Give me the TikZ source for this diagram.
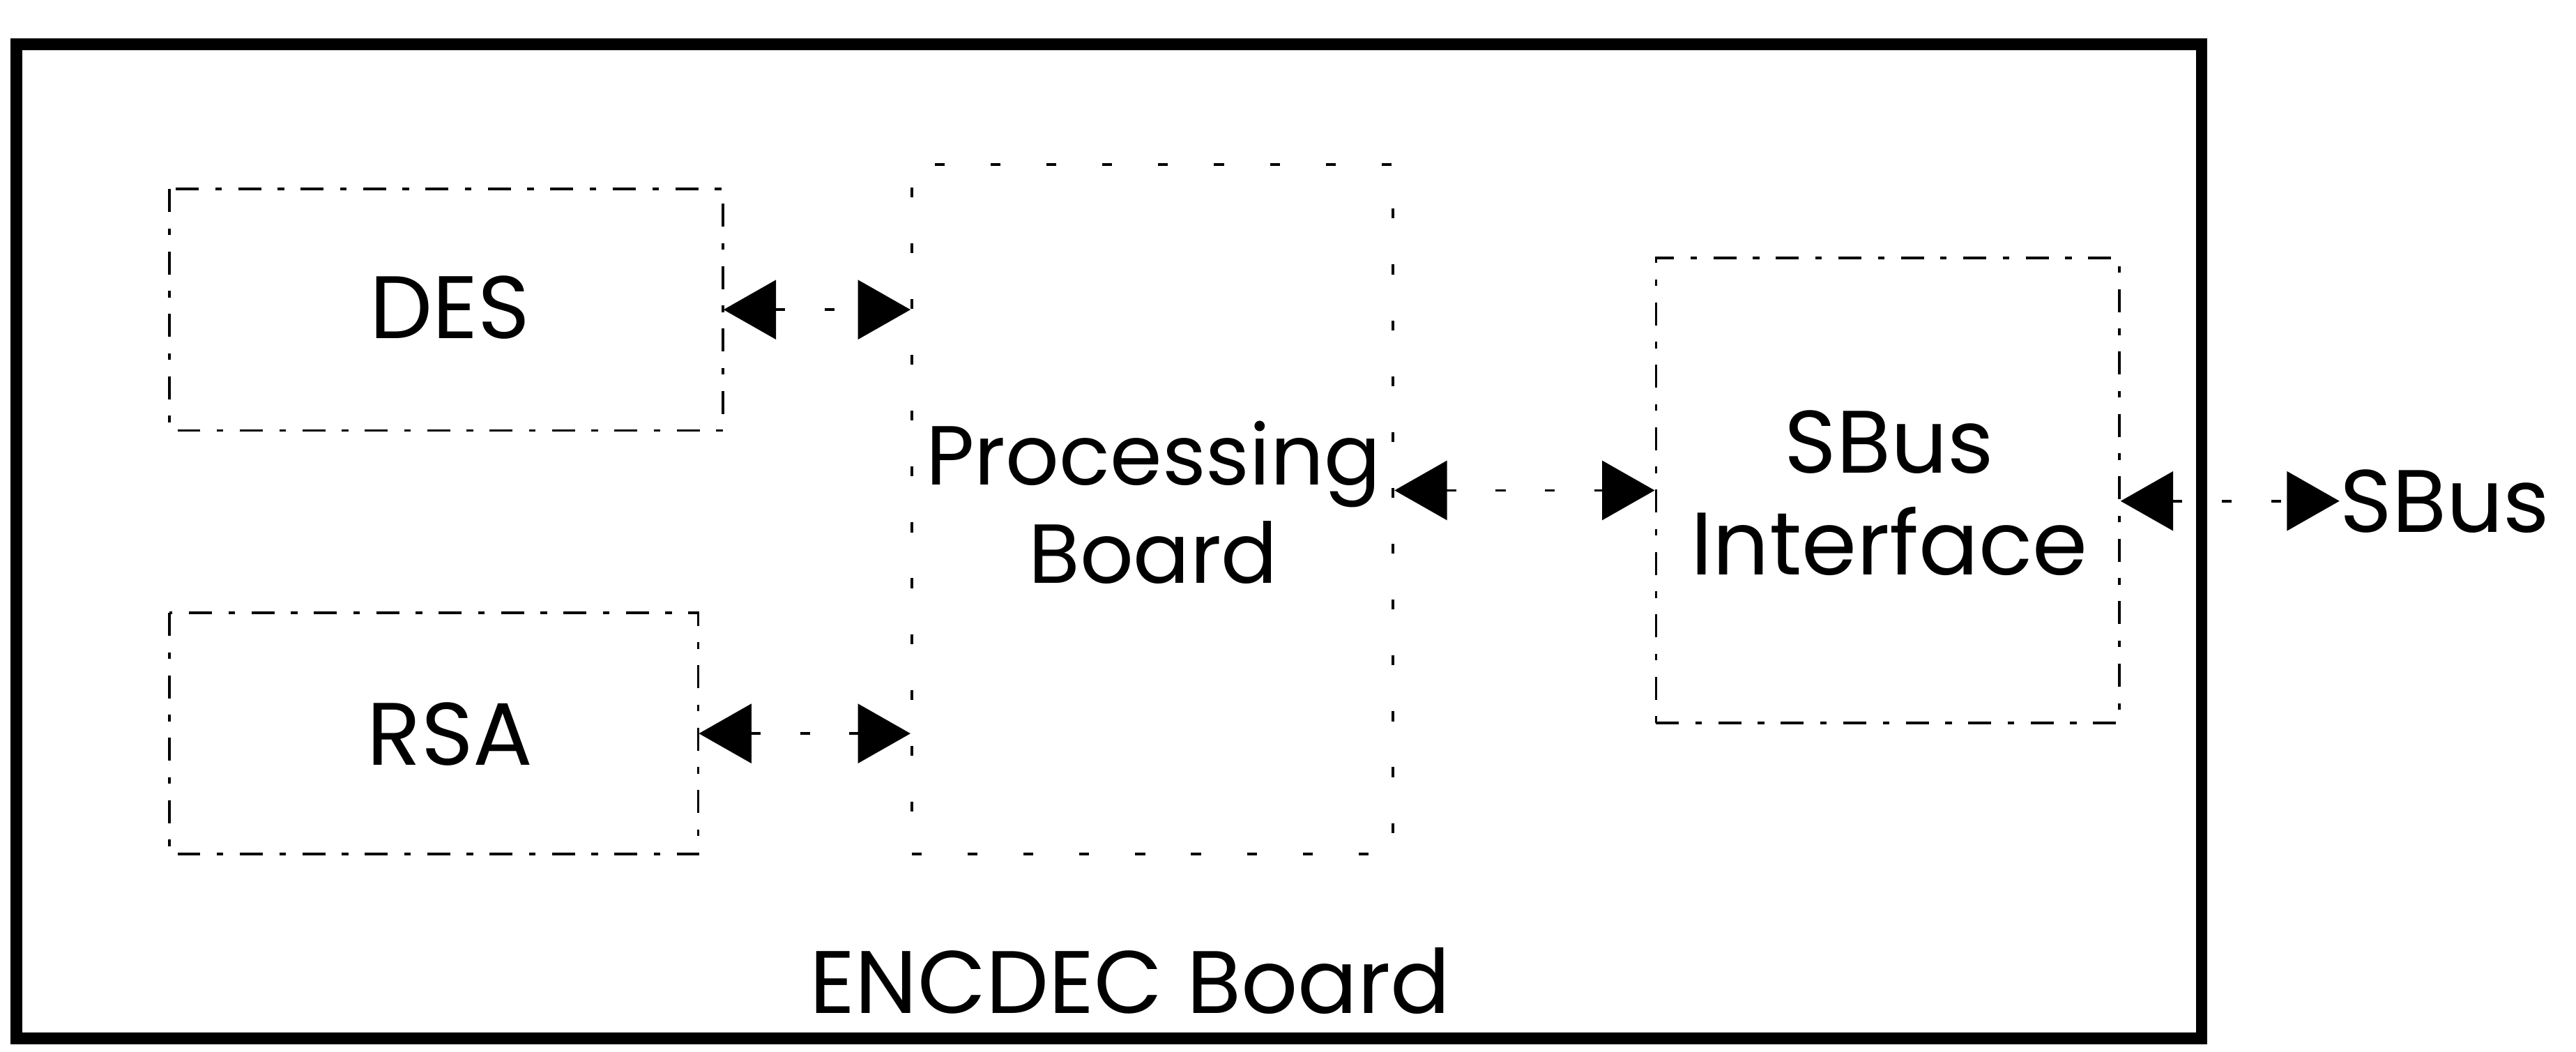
\documentclass[tikz,border=0pt]{standalone}
\usepackage{fontspec}
\setmainfont{Poppins}
\usetikzlibrary{arrows.meta}
\tikzset{
  faint/.style={draw, line width=0.8pt, dash pattern=on 7pt off 5pt on 2pt off 5pt},
  fainter/.style={draw, line width=0.8pt, dash pattern=on 3pt off 14pt},
  lbl/.style={font=\fontsize{27}{31}\selectfont, align=center, inner sep=0pt},
  biarrow/.style={line width=0.8pt, dash pattern=on 3pt off 12pt,
    {Triangle[length=16pt,width=18pt]}-{Triangle[length=16pt,width=18pt]}},
  frame/.style={draw, line width=3.5pt}
}
\begin{document}
\begin{tikzpicture}[x=0.5pt,y=-0.5pt]
\useasboundingbox (0,0) rectangle (1568,640);
% outer board
\draw[frame] (10,27) rectangle (1340,632);
\coordinate (boardlabel) at (688,597);
\node[lbl] (encdec) at (boardlabel) {ENCDEC Board};
% boxes
\draw[faint] (103,115) rectangle (440,262);
\node[lbl] (deslbl) at (274,187) {DES};
\coordinate (des) at (271.5,188.5);
\node[minimum width=168.5pt, minimum height=73.5pt, inner sep=0pt] (desbox) at (des) {};
\draw[faint] (103,373) rectangle (425,520);
\node[minimum width=161pt, minimum height=73.5pt, inner sep=0pt] (rsabox) at (264,446.5) {};
\node[lbl] (rsalbl) at (274,447) {RSA};
\node[fainter, minimum width=146.5pt, minimum height=210pt, inner sep=0pt] (proc) at (701.5,310) {};
\node[lbl, font=\fontsize{25.5}{30}\selectfont] (proclbl) at (702,306) {Processing\\Board};
\node[faint, minimum width=141pt, minimum height=141.5pt, inner sep=0pt] (sbi) at (1149,298.5) {};
\node[lbl] (sbilbl) at (1150,300) {SBus\\Interface};
\node[lbl, anchor=west] (sbus) at (1424,305) {SBus};
% connectors
\draw[biarrow] (desbox.east) -- (proc.west |- desbox.east);
\draw[biarrow] (rsabox.east) -- (proc.west |- rsabox.east);
\draw[biarrow] (proc.east |- sbi.west) -- (sbi.west);
\draw[biarrow] (sbi.east |- sbus.west) -- (sbus.west);
\end{tikzpicture}
\end{document}
